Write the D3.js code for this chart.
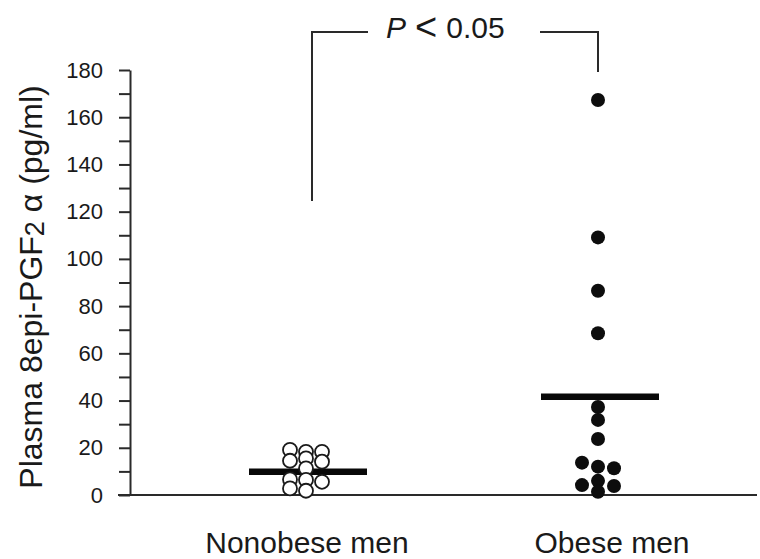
<!doctype html>
<html lang="en">
  <head>
    <meta charset="utf-8">
    <title>Plasma 8epi-PGF2 alpha</title>
    <script src="https://cdn.jsdelivr.net/npm/d3@7"></script>
    <style>
      body { margin: 0; background: #fff; }
      text { font-family: "Liberation Sans", Arial, sans-serif; fill: #1a1a1a; }
    </style>
  </head>
  <body>
    <script>

      // values (pg/ml), slot = column in the dot cluster
      var groups = ["Nonobese men", "Obese men"];
      var nonobeseValues = [19.1, 14.5, 6.6, 2.8, 18.3, 15.5, 11.3, 6.4, 1.8, 18.3, 14.1, 5.6];
      var nonobeseSlot   = [-1, -1, -1, -1, 0, 0, 0, 0, 0, 1, 1, 1];
      var obeseValues = [167.3, 109.1, 86.5, 68.5, 37.3, 31.8, 23.7, 12.0, 6.0, 1.4, 13.7, 4.2, 11.3, 3.8];
      var obeseSlot   = [0, 0, 0, 0, 0, 0, 0, 0, 0, 0, -1, -1, 1, 1];
      var means = [9.9, 41.6];
      var yTicks = [0, 20, 40, 60, 80, 100, 120, 140, 160, 180];
      var yMinor = [10, 30, 50, 70, 90, 110, 130, 150, 170];

      var width = 760, height = 559;

      var svg = d3.select("body").append("svg")
          .attr("width", width)
          .attr("height", height);

      var y = d3.scaleLinear().domain([0, 180]).range([495, 70]);
      var x = d3.scalePoint().domain(groups).range([306, 598]);
      var dodge = d3.scaleLinear().domain([-1, 1]).range([-16, 16]);

      // minor ticks
      svg.append("g")
          .attr("transform", "translate(130,0)")
          .call(d3.axisLeft(y).tickValues(yMinor).tickSize(11).tickFormat(""))
          .call(function(g){ g.select(".domain").remove(); })
          .selectAll("line").attr("stroke", "#2a2a2a").attr("stroke-width", 2);

      var yAxis = svg.append("g")
          .attr("transform", "translate(130,0)")
          .call(d3.axisLeft(y).tickValues(yTicks).tickSize(11).tickPadding(16).tickSizeOuter(0));
      yAxis.select(".domain").attr("stroke", "#2a2a2a").attr("stroke-width", 2);
      yAxis.selectAll(".tick line").attr("stroke", "#2a2a2a").attr("stroke-width", 2);
      yAxis.selectAll(".tick text")
          .attr("font-size", 22)
          .attr("font-family", "Liberation Sans, Arial, sans-serif")
          .attr("fill", "#1a1a1a");

      // baseline
      svg.append("line")
          .attr("x1", 118).attr("x2", 757)
          .attr("y1", y(0)).attr("y2", y(0))
          .attr("stroke", "#2a2a2a").attr("stroke-width", 2);

      // y label
      var ylab = svg.append("text")
          .attr("transform", "translate(42," + 287 + ") rotate(-90)")
          .attr("text-anchor", "middle")
          .attr("font-size", 32);
      ylab.append("tspan").text("Plasma 8epi-PGF");
      ylab.append("tspan").attr("font-size", 27).attr("dy", 2).text("2");
      ylab.append("tspan").attr("dy", -2).text(" \u03B1 (pg/ml)");

      // group labels
      svg.selectAll(".glabel").data(groups).enter().append("text")
          .attr("class", "glabel")
          .attr("x", function(d, i){ return x(d) + (i ? 14 : 1); })
          .attr("y", 553)
          .attr("text-anchor", "middle")
          .attr("font-size", 30)
          .text(String);

      // mean bars
      svg.selectAll(".mean").data(means).enter().append("line")
          .attr("class", "mean")
          .attr("x1", function(d, i){ return x(groups[i]) - 57; })
          .attr("x2", function(d, i){ return x(groups[i]) + 61; })
          .attr("y1", function(d){ return y(d); })
          .attr("y2", function(d){ return y(d); })
          .attr("stroke", "#080808").attr("stroke-width", 6.5);

      // nonobese: open circles
      svg.selectAll(".open").data(nonobeseValues).enter().append("circle")
          .attr("class", "open")
          .attr("cx", function(d, i){ return x(groups[0]) + dodge(nonobeseSlot[i]); })
          .attr("cy", function(d){ return y(d); })
          .attr("r", 7)
          .attr("fill", "#fff")
          .attr("stroke", "#1a1a1a").attr("stroke-width", 1.8);

      // obese: filled dots
      svg.selectAll(".fill").data(obeseValues).enter().append("circle")
          .attr("class", "fill")
          .attr("cx", function(d, i){ return x(groups[1]) + dodge(obeseSlot[i]); })
          .attr("cy", function(d){ return y(d); })
          .attr("r", 7)
          .attr("fill", "#0d0d0d");

      // significance bracket
      var br = svg.append("g").attr("stroke", "#2a2a2a").attr("stroke-width", 2).attr("fill", "none");
      br.append("path").attr("d", "M312,201V32H368");
      br.append("path").attr("d", "M540,32H598V72");

      var ptxt = svg.append("text")
          .attr("x", 386).attr("y", 38)
          .attr("font-size", 30);
      ptxt.append("tspan").attr("font-style", "italic").text("P");
      ptxt.append("tspan").attr("dx", 9).attr("font-size", 38).attr("dy", 2).text("<");
      ptxt.append("tspan").attr("dx", 9).attr("dy", -2).text("0.05");

    </script>
  </body>
</html>
